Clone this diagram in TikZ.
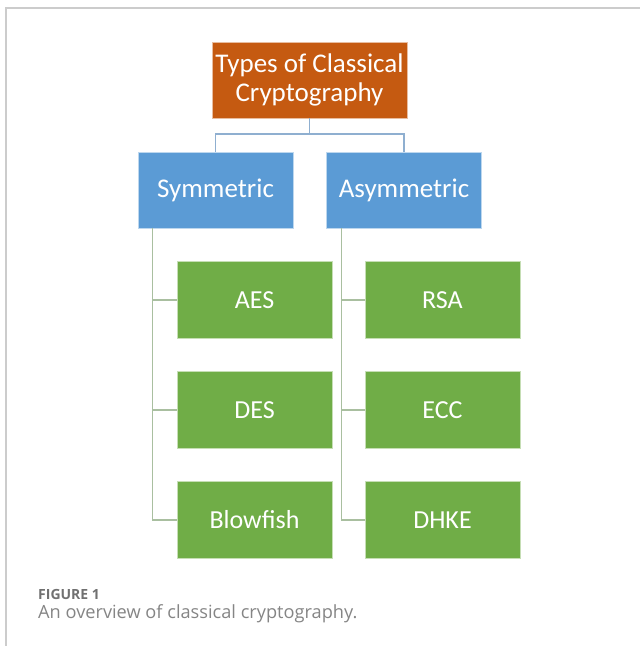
\documentclass[tikz,border=0pt]{standalone}
\usepackage{fontspec}
\setmainfont{Carlito}
\newfontfamily\captionfont{Open Sans}
\usepackage{xcolor}
\usepackage{tikz}

\definecolor{rootorange}{HTML}{C55A11}
\definecolor{levelblue}{HTML}{5B9BD5}
\definecolor{leafgreen}{HTML}{70AD47}
\definecolor{bluelink}{HTML}{8FAFD0}
\definecolor{greenlink}{HTML}{A9BFA0}
\definecolor{framegray}{HTML}{CCCCCC}
\definecolor{captiongray}{HTML}{707070}

\begin{document}
\begin{tikzpicture}[x=1pt, y=1pt,
  rootbox/.style={draw=white!60!rootorange, fill=rootorange, text=white, minimum width=195pt, minimum height=76pt, align=center, font=\fontsize{27}{28.5}\selectfont, inner sep=0pt},
  levelbox/.style={draw=white!60!levelblue, fill=levelblue, text=white, minimum width=155pt, minimum height=76pt, font=\fontsize{27}{30}\selectfont, inner sep=0pt},
  leafbox/.style={draw=white!60!leafgreen, fill=leafgreen, text=white, minimum width=155pt, minimum height=77pt, font=\fontsize{26}{30}\selectfont, inner sep=0pt},
  bluewire/.style={draw=bluelink, line width=1.2pt},
  greenwire/.style={draw=greenlink, line width=1.2pt}]
\useasboundingbox (0,0) rectangle (640,-646);

% Frame
\draw[framegray, line width=1.5pt] (6,-646) -- (6,-8) -- (640,-8);

% Root
\node[rootbox] (root) at (309.5,-80) {Types of Classical\\Cryptography};

% Second level
\node[levelbox] (sym) at (215.5,-190) {Symmetric};
\node[levelbox] (asym) at (404,-190) {Asymmetric};

% Leaves
\node[leafbox] (aes) at (254.5,-300) {AES};
\node[leafbox] (des) at (254.5,-410) {DES};
\node[leafbox] (blowfish) at (254.5,-520) {Blowfish};
\node[leafbox] (rsa) at (442.5,-300) {RSA};
\node[leafbox] (ecc) at (442.5,-410) {ECC};
\node[leafbox] (dhke) at (442.5,-520) {DHKE};

% Connectors
\coordinate (split) at (309.5,-134);
\draw[bluewire] (root.south) -- (split) -| (sym.north);
\draw[bluewire] (split) -| (asym.north);
\draw[greenwire] ([xshift=15pt]sym.south west) |- (aes.west);
\draw[greenwire] ([xshift=15pt]sym.south west) |- (des.west);
\draw[greenwire] ([xshift=15pt]sym.south west) |- (blowfish.west);
\draw[greenwire] ([xshift=15pt]asym.south west) |- (rsa.west);
\draw[greenwire] ([xshift=15pt]asym.south west) |- (ecc.west);
\draw[greenwire] ([xshift=15pt]asym.south west) |- (dhke.west);

% Caption
\node[anchor=base west, inner sep=0pt, text=captiongray, font=\captionfont\bfseries\fontsize{14}{16}\selectfont] (figlabel) at (38,-599) {FIGURE 1};
\node[anchor=base west, inner sep=0pt, text=captiongray!85, font=\captionfont\fontsize{18.2}{21}\selectfont] (figtext) at (38,-618) {An overview of classical cryptography.};
\end{tikzpicture}
\end{document}
